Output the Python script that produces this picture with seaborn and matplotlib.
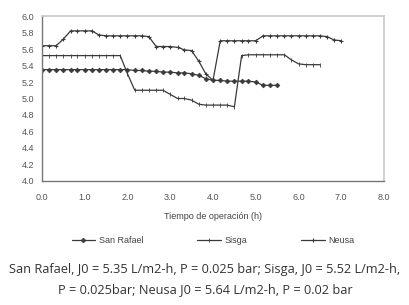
import matplotlib
matplotlib.use("Agg")
import matplotlib.pyplot as plt
import seaborn as sns
import pandas as pd

# ---- data ----
t_sanrafael = [0.0, 0.17, 0.33, 0.5, 0.67, 0.83, 1.0, 1.17, 1.33, 1.5, 1.67, 1.83, 2.0,
               2.17, 2.33, 2.5, 2.67, 2.83, 3.0, 3.17, 3.33, 3.5, 3.67, 3.83, 4.0,
               4.17, 4.33, 4.5, 4.67, 4.83, 5.0, 5.17, 5.33, 5.5]
v_sanrafael = [5.35, 5.35, 5.35, 5.35, 5.35, 5.35, 5.35, 5.35, 5.35, 5.35, 5.35, 5.35, 5.35,
               5.34, 5.34, 5.33, 5.33, 5.32, 5.32, 5.31, 5.31, 5.30, 5.28, 5.24, 5.22,
               5.22, 5.21, 5.21, 5.21, 5.21, 5.20, 5.16, 5.16, 5.16]

t_sisga = [0.0, 0.17, 0.33, 0.5, 0.67, 0.83, 1.0, 1.17, 1.33, 1.5, 1.67, 1.83, 2.0,
           2.17, 2.33, 2.5, 2.67, 2.83, 3.0, 3.17, 3.33, 3.5, 3.67, 3.83, 4.0,
           4.17, 4.33, 4.5, 4.67, 4.83, 5.0, 5.17, 5.33, 5.5, 5.67, 5.83, 6.0,
           6.17, 6.33, 6.5]
v_sisga = [5.52, 5.52, 5.52, 5.52, 5.52, 5.52, 5.52, 5.52, 5.52, 5.52, 5.52, 5.52, 5.30,
           5.10, 5.10, 5.10, 5.10, 5.10, 5.05, 5.00, 5.00, 4.98, 4.93, 4.92, 4.92,
           4.92, 4.92, 4.90, 5.52, 5.53, 5.53, 5.53, 5.53, 5.53, 5.53, 5.47, 5.42,
           5.41, 5.41, 5.41]

t_neusa = [0.0, 0.17, 0.33, 0.5, 0.67, 0.83, 1.0, 1.17, 1.33, 1.5, 1.67, 1.83, 2.0,
           2.17, 2.33, 2.5, 2.67, 2.83, 3.0, 3.17, 3.33, 3.5, 3.67, 3.83, 4.0,
           4.17, 4.33, 4.5, 4.67, 4.83, 5.0, 5.17, 5.33, 5.5, 5.67, 5.83, 6.0,
           6.17, 6.33, 6.5, 6.67, 6.83, 7.0]
v_neusa = [5.64, 5.64, 5.64, 5.72, 5.82, 5.82, 5.82, 5.82, 5.77, 5.76, 5.76, 5.76, 5.76,
           5.76, 5.76, 5.75, 5.63, 5.63, 5.63, 5.62, 5.59, 5.58, 5.45, 5.30, 5.22,
           5.70, 5.70, 5.70, 5.70, 5.70, 5.70, 5.76, 5.76, 5.76, 5.76, 5.76, 5.76,
           5.76, 5.76, 5.76, 5.75, 5.71, 5.70]

series_names = ["San Rafael", "Sisga", "Neusa"]
x_ticks = [0.0, 1.0, 2.0, 3.0, 4.0, 5.0, 6.0, 7.0, 8.0]
y_ticks = [4.0, 4.2, 4.4, 4.6, 4.8, 5.0, 5.2, 5.4, 5.6, 5.8, 6.0]
x_label = "Tiempo de operación (h)"
caption = ("San Rafael, J0 = 5.35 L/m2-h, P = 0.025 bar; Sisga, J0 = 5.52 L/m2-h,\n"
           "P = 0.025bar; Neusa J0 = 5.64 L/m2-h, P = 0.02 bar")

df = pd.concat([
    pd.DataFrame({"t": t_sanrafael, "v": v_sanrafael, "s": series_names[0]}),
    pd.DataFrame({"t": t_sisga, "v": v_sisga, "s": series_names[1]}),
    pd.DataFrame({"t": t_neusa, "v": v_neusa, "s": series_names[2]}),
])

sns.set_theme(style="white")
plt.rcParams["font.family"] = ["Liberation Sans", "DejaVu Sans"]

fig = plt.figure(figsize=(4.1, 3.05), dpi=100)
ax = fig.add_axes([0.1024, 0.4066, 0.8342, 0.5409])

styles = {
    "San Rafael": dict(marker="D", markersize=2.4, markeredgewidth=0.5),
    "Sisga": dict(marker="|", markersize=2.5, markeredgewidth=0.6),
    "Neusa": dict(marker="+", markersize=3.5, markeredgewidth=0.8),
}
line_color = "#3a3a3a"
for name in series_names:
    sub = df[df["s"] == name]
    sns.lineplot(data=sub, x="t", y="v", ax=ax, color=line_color, linewidth=0.9,
                 label=name, markeredgecolor=line_color, markerfacecolor=line_color,
                 **styles[name])

ax.set_xlim(0, 8)
ax.set_ylim(4.0, 6.0)
ax.set_xticks(x_ticks)
ax.set_xticklabels([f"{v:.1f}" for v in x_ticks])
ax.set_yticks(y_ticks)
ax.set_yticklabels([f"{v:.1f}" for v in y_ticks])
ax.tick_params(axis="both", labelsize=6.5, labelcolor="#555555", color="#777777",
               length=3, width=0.6, direction="inout")
ax.tick_params(axis="x", pad=7)
ax.tick_params(axis="y", pad=4)
ax.set_xlabel(x_label, fontsize=6.5, color="#444444", labelpad=7)
ax.set_ylabel("")

for side in ["top", "right"]:
    ax.spines[side].set_color("#c8c8c8")
    ax.spines[side].set_linewidth(1.2)
for side in ["left", "bottom"]:
    ax.spines[side].set_color("#777777")
    ax.spines[side].set_linewidth(1.0)

ax.legend(loc="center", bbox_to_anchor=(0.5, -0.36), ncol=3, frameon=False,
          fontsize=6.5, handlelength=2.6, columnspacing=6.0, handletextpad=0.4,
          labelcolor="#444444")

fig.text(0.5, 0.085, caption, ha="center", va="center", fontsize=9.2,
         family=["Open Sans", "DejaVu Sans"], color="#333333", linespacing=1.7)

fig.savefig("out.png", dpi=100, facecolor="white")
